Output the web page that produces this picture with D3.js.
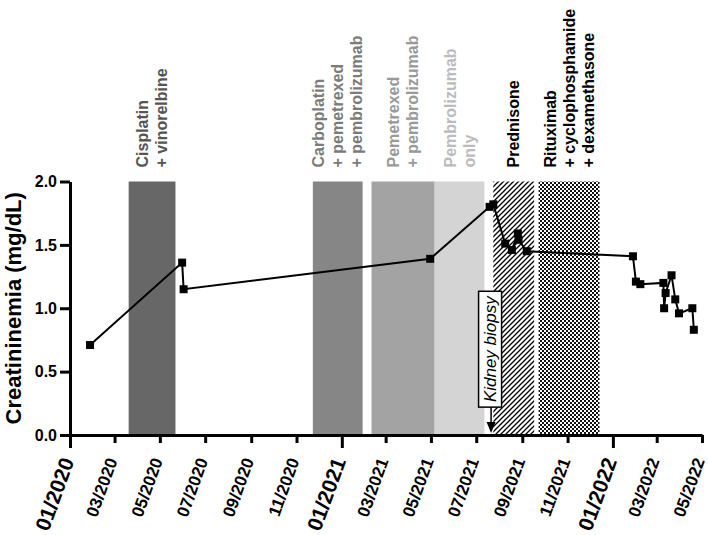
<!DOCTYPE html>
<html>
<head>
<meta charset="utf-8">
<script src="https://cdn.jsdelivr.net/npm/d3@7"></script>
<style>
  body { margin: 0; background: #fff; }
  svg { display: block; font-family: "Liberation Sans", Arial, sans-serif; }
</style>
</head>
<body>
<div class="chart"></div>
<script>
// tick labels
const xTickLabels = ["01/2020", "03/2020", "05/2020", "07/2020", "09/2020", "11/2020",
  "01/2021", "03/2021", "05/2021", "07/2021", "09/2021", "11/2021",
  "01/2022", "03/2022", "05/2022"];
const yTicks = [0, 0.5, 1.0, 1.5, 2.0];

// creatinine measurements
const sampleDates = ["2020-01-28", "2020-05-31", "2020-06-02", "2021-04-30",
  "2021-07-19", "2021-07-24", "2021-08-09", "2021-08-18", "2021-08-26", "2021-08-27",
  "2021-09-07", "2022-01-28", "2022-02-01", "2022-02-07", "2022-03-10", "2022-03-11",
  "2022-03-13", "2022-03-21", "2022-03-26", "2022-03-31", "2022-04-18", "2022-04-20"];
const creatinine = [0.71, 1.36, 1.15, 1.39,
  1.80, 1.82, 1.51, 1.46, 1.59, 1.54,
  1.45, 1.41, 1.21, 1.19, 1.20, 1.00,
  1.12, 1.26, 1.07, 0.96, 1.00, 0.83];

// treatments
const treatmentNames = [
  ["Cisplatin", "+ vinorelbine"],
  ["Carboplatin", "+ pemetrexed", "+ pembrolizumab"],
  ["Pemetrexed", "+ pembrolizumab"],
  ["Pembrolizumab", "only"],
  ["Prednisone"],
  ["Rituximab", "+ cyclophosphamide", "+ dexamethasone"]
];
const treatmentStart = ["2020-03-20", "2020-11-23", "2021-02-10", "2021-05-06", "2021-07-24", "2021-09-23"];
const treatmentEnd   = ["2020-05-22", "2021-01-29", "2021-05-06", "2021-07-12", "2021-09-17", "2021-12-14"];

const biopsyDate = "2021-07-21";
const biopsyLabel = "Kidney biopsy";

// styles
const bandFill  = ["#676767", "#868686", "#a3a3a3", "#d4d4d4", "url(#hatch)", "url(#checker)"];
const labelFill = ["#555555", "#7b7b7b", "#999999", "#bcbcbc", "#000000", "#000000"];

const parseDay = d3.timeParse("%Y-%m-%d");
const parseMonth = d3.timeParse("%m/%Y");

const svg_width = 708, svg_height = 535;
const margin = { top: 181.5, right: 6, bottom: 100, left: 70 };

const svg = d3.select(".chart").append("svg")
  .attr("width", svg_width).attr("height", svg_height);

const xScale = d3.scaleTime()
  .domain([parseMonth(xTickLabels[0]), parseMonth(xTickLabels[xTickLabels.length - 1])])
  .range([margin.left, svg_width - margin.right]);
const yScale = d3.scaleLinear()
  .domain([0, 2])
  .range([svg_height - margin.bottom, margin.top]);

// patterns
const defs = svg.append("defs");
const hatch = defs.append("pattern").attr("id", "hatch")
  .attr("patternUnits", "userSpaceOnUse").attr("width", 5).attr("height", 5);
hatch.append("rect").attr("width", 5).attr("height", 5).attr("fill", "#fff");
hatch.append("path").attr("d", "M-1,1 l2,-2 M0,5 l5,-5 M4,6 l2,-2")
  .attr("stroke", "#000").attr("stroke-width", 1.3);
const checker = defs.append("pattern").attr("id", "checker")
  .attr("patternUnits", "userSpaceOnUse").attr("width", 4).attr("height", 4);
checker.append("rect").attr("width", 4).attr("height", 4).attr("fill", "#fff");
checker.append("rect").attr("width", 2).attr("height", 2).attr("fill", "#111");
checker.append("rect").attr("x", 2).attr("y", 2).attr("width", 2).attr("height", 2).attr("fill", "#111");

// treatment bands
const bands = treatmentNames.map((names, i) => ({
  names, start: parseDay(treatmentStart[i]), end: parseDay(treatmentEnd[i]), i
}));

svg.append("g").attr("class", "bands")
  .selectAll("rect").data(bands).join("rect")
  .attr("x", d => xScale(d.start))
  .attr("width", d => xScale(d.end) - xScale(d.start))
  .attr("y", yScale(2))
  .attr("height", yScale(0) - yScale(2))
  .attr("fill", d => bandFill[d.i]);

// band labels
const lineGap = 19;
const labelG = svg.append("g").attr("class", "band-labels");
bands.forEach(b => {
  const cx = (xScale(b.start) + xScale(b.end)) / 2;
  b.names.forEach((name, j) => {
    const x = cx + (j - (b.names.length - 1) / 2) * lineGap;
    labelG.append("text")
      .attr("transform", `translate(${x},${yScale(2) - 14}) rotate(-90)`)
      .attr("dy", "0.35em")
      .style("font-size", "16px").style("font-weight", "bold")
      .attr("fill", labelFill[b.i])
      .text(name);
  });
});

// creatinine line
const points = sampleDates.map((d, i) => ({ date: parseDay(d), value: creatinine[i] }));
const line = d3.line().x(d => xScale(d.date)).y(d => yScale(d.value));
svg.append("path").datum(points)
  .attr("d", line).attr("fill", "none")
  .attr("stroke", "#000").attr("stroke-width", 2);
const ms = 8;
svg.append("g").attr("class", "markers")
  .selectAll("rect").data(points).join("rect")
  .attr("x", d => xScale(d.date) - ms / 2)
  .attr("y", d => yScale(d.value) - ms / 2)
  .attr("width", ms).attr("height", ms)
  .attr("fill", "#000");

// kidney biopsy annotation
const ax = xScale(parseDay(biopsyDate));
const bio = svg.append("g").attr("class", "biopsy");
const boxBottom = yScale(0.22);
const boxW = 23;
const boxRect = bio.append("rect")
  .attr("x", ax - boxW / 2 - 1).attr("width", boxW)
  .attr("fill", "#fff").attr("stroke", "#000").attr("stroke-width", 1.5);
const bioText = bio.append("text")
  .style("font-size", "17px").style("font-style", "italic")
  .attr("text-anchor", "middle").attr("dy", "0.35em")
  .text(biopsyLabel);
const txtLen = bioText.node().getComputedTextLength();
const boxH = txtLen + 10;
boxRect.attr("y", boxBottom - boxH).attr("height", boxH);
bioText.attr("transform", `translate(${ax - 1},${boxBottom - boxH / 2}) rotate(-90)`);
const tipY = yScale(0) - 2;
bio.append("line")
  .attr("x1", ax).attr("x2", ax)
  .attr("y1", boxBottom).attr("y2", tipY - 10)
  .attr("stroke", "#000").attr("stroke-width", 1.5);
bio.append("path")
  .attr("d", `M${ax - 4.5},${tipY - 11} L${ax + 4.5},${tipY - 11} L${ax},${tipY} Z`)
  .attr("fill", "#000");

// axes
const xTicks = xTickLabels.map(parseMonth);
const isMajor = d => d.getMonth() === 0;

const xAxis = d3.axisBottom(xScale)
  .tickValues(xTicks)
  .tickFormat(d3.timeFormat("%m/%Y"))
  .tickSizeInner(8).tickSizeOuter(0);
const xAxisDraw = svg.append("g").attr("class", "x axis")
  .attr("transform", `translate(0,${yScale(0)})`)
  .call(xAxis);
xAxisDraw.select(".domain").attr("stroke-width", 3).attr("stroke", "#000");
xAxisDraw.selectAll(".tick line")
  .attr("stroke-width", 3).attr("stroke", "#000")
  .attr("y2", d => isMajor(d) ? 13 : 8);
xAxisDraw.selectAll(".tick text")
  .attr("y", 0).attr("dy", "0.35em")
  .attr("text-anchor", "end")
  .attr("transform", "translate(-3,23.5) rotate(-70)")
  .style("font-family", "'Liberation Sans', Arial, sans-serif")
  .style("font-weight", "bold")
  .style("font-size", d => isMajor(d) ? "21px" : "17px")
  .attr("fill", "#000");

const yAxis = d3.axisLeft(yScale)
  .tickValues(yTicks)
  .tickFormat(d3.format(".1f"))
  .tickSizeInner(10).tickSizeOuter(0);
const yAxisDraw = svg.append("g").attr("class", "y axis")
  .attr("transform", `translate(${margin.left},0)`)
  .call(yAxis);
yAxisDraw.select(".domain").attr("stroke-width", 3).attr("stroke", "#000");
yAxisDraw.selectAll(".tick line").attr("stroke-width", 3).attr("stroke", "#000");
yAxisDraw.selectAll(".tick text")
  .attr("x", -13)
  .style("font-family", "'Liberation Sans', Arial, sans-serif")
  .style("font-weight", "bold").style("font-size", "16px")
  .attr("fill", "#000");

// y title
svg.append("text")
  .attr("transform", `translate(21,${(yScale(0) + yScale(2)) / 2}) rotate(-90)`)
  .attr("text-anchor", "middle")
  .style("font-size", "22px").style("font-weight", "bold")
  .text("Creatininemia (mg/dL)");
</script>
</body>
</html>
